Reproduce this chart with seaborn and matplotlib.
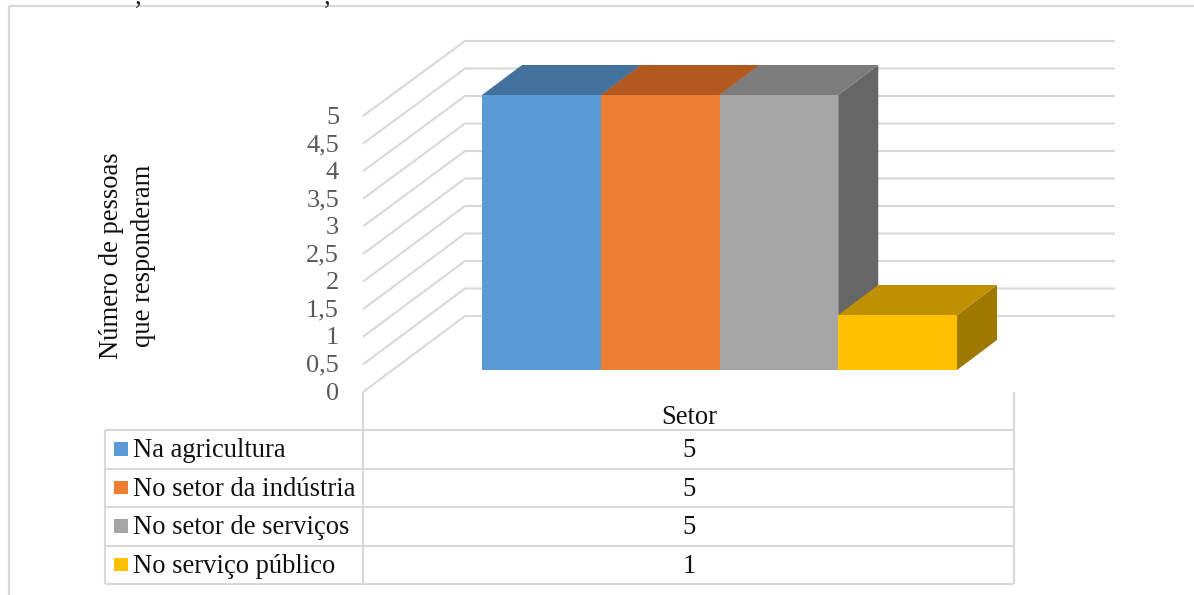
import matplotlib
matplotlib.use("Agg")
import matplotlib.pyplot as plt
import pandas as pd
import seaborn as sns
from matplotlib.lines import Line2D
from matplotlib.patches import Polygon, Rectangle
from matplotlib.transforms import Affine2D

series = ["Na agricultura", "No setor da indústria", "No setor de serviços", "No serviço público"]
values = [5, 5, 5, 1]
front_colors = ["#5B9BD5", "#ED7D31", "#A5A5A5", "#FFC000"]
top_colors = ["#43729E", "#B2591F", "#7C7C7C", "#BF9000"]
side_colors = ["#386085", "#954C1C", "#666666", "#9F7800"]
y_ticks = [0, 0.5, 1, 1.5, 2, 2.5, 3, 3.5, 4, 4.5, 5]
y_tick_labels = ["0", "0,5", "1", "1,5", "2", "2,5", "3", "3,5", "4", "4,5", "5"]
category_label = "Setor"
y_label_lines = ["Número de pessoas", "que responderam"]

W, H = 1194, 595
GRID = "#D9D9D9"
FONT = "Liberation Serif"
TEXT_SIZE = 19.2

sns.set_theme(style="white")
plt.rcParams["font.family"] = FONT

fig = plt.figure(figsize=(W / 100, H / 100), dpi=100, facecolor="white")
ax = fig.add_axes([482 / W, (H - 370) / H, 475 / W, 275 / H], zorder=5)
ax.patch.set_visible(False)

df = pd.DataFrame({"Setor": series, "Pessoas": values})
sns.barplot(data=df, x="Setor", y="Pessoas", hue="Setor", palette=front_colors,
            width=1, dodge=False, legend=False, ax=ax, saturation=1, zorder=5, linewidth=0)
ax.set_xlim(-0.5, 3.5)
ax.set_ylim(0, 5)
ax.axis("off")

# pixel-space transform for the furniture around the plot
px = Affine2D().scale(1, -1).translate(0, H)


def fline(xs, ys, color=GRID, lw=1.5, z=1):
    fig.add_artist(Line2D(xs, ys, transform=px, color=color, lw=lw, zorder=z, solid_capstyle="butt"))


def ftext(x, y, s, **kw):
    kw.setdefault("family", FONT)
    kw.setdefault("fontsize", TEXT_SIZE)
    kw.setdefault("va", "center")
    fig.text(x, y, s, transform=px, **kw)


# outer frame (top and left only reach the picture)
fline([9, 1194], [6, 6], lw=1.6)
fline([9, 9], [6, 595], lw=1.6)
ftext(138, -3, ",", color="#222222", ha="center")
ftext(327, -3, ",", color="#222222", ha="center")

# back wall gridlines and left wall diagonals, one per tick
for v, lab in zip(y_ticks, y_tick_labels):
    yb = 316 - 55 * v
    yf = 392 - 55.2 * v
    fline([363, 465, 1115], [yf, yb, yb])
    ftext(339, yf + 1.5, lab, color="#595959", ha="right", fontsize=19)

# 3-D faces of each bar, computed from the bar values
ux = 475 / 4
uy = 275 / 5
dx, dy = 40 / ux, 30 / uy
for i, v in enumerate(values):
    x0, x1 = i - 0.5, i + 0.5
    ax.add_patch(Polygon([(x0, v), (x1, v), (x1 + dx, v + dy), (x0 + dx, v + dy)],
                         fc=top_colors[i], ec="none", clip_on=False, zorder=4 - i * 0.1))
    ax.add_patch(Polygon([(x1, 0), (x1 + dx, dy), (x1 + dx, v + dy), (x1, v)],
                         fc=side_colors[i], ec="none", clip_on=False, zorder=3 + i * 0.1))

# data table
rows = [430, 468.5, 507, 545.5, 584]
fline([363, 363], [392, rows[-1]])
fline([1014, 1014], [392, rows[-1]])
fline([105, 105], [rows[0], rows[-1]])
for y in rows:
    fline([105, 1014], [y, y])
ftext(689, 418, category_label, color="#111111", ha="center")
for i, (name, v) in enumerate(zip(series, values)):
    yc = (rows[i] + rows[i + 1]) / 2
    fig.add_artist(Rectangle((114, yc - 7), 13.5, 13.5, transform=px, fc=front_colors[i], ec="none"))
    ftext(133, yc + 1.5, name, color="#111111", ha="left")
    ftext(689, yc + 1.5, str(v), color="#111111", ha="center")

ftext(111, 256, y_label_lines[0], color="#111111", ha="center", rotation=90)
ftext(143, 256, y_label_lines[1], color="#111111", ha="center", rotation=90)

fig.savefig("out.png", dpi=100, facecolor="white")
